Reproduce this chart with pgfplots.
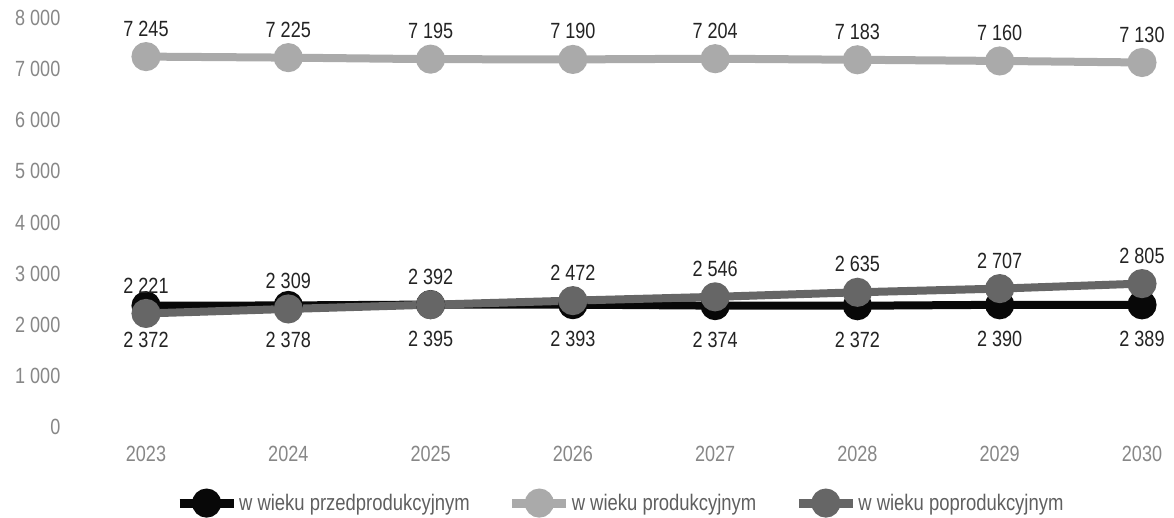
\documentclass[border=0pt]{standalone}
\usepackage{fontspec}
\setmainfont[FakeStretch=0.82]{Liberation Sans}
\usepackage{pgfplots}
\pgfplotsset{compat=1.18}
\definecolor{cBlack}{RGB}{8,8,8}
\definecolor{cLight}{RGB}{170,170,170}
\definecolor{cDark}{RGB}{102,102,102}
\definecolor{cTick}{RGB}{135,135,135}
\definecolor{cLab}{RGB}{35,35,35}
\definecolor{cLeg}{RGB}{95,95,95}
\begin{document}
\begin{tikzpicture}
\begin{axis}[
  name=ax, scale only axis, width=996pt, height=409pt,
  xmin=2023, xmax=2030, ymin=0, ymax=8000,
  clip=false,
  axis lines=left, axis line style={draw=none}, tick style={draw=none},
  /pgf/number format/.cd, 1000 sep={\ }, assume math mode=true, fixed, precision=0,
  /pgfplots/.cd,
  xtick={2023,2024,2025,2026,2027,2028,2029,2030},
  xticklabels={2023,2024,2025,2026,2027,2028,2029,2030},
  ytick={0,1000,2000,3000,4000,5000,6000,7000,8000},
  tick label style={font=\fontsize{22}{24}\selectfont, text=cTick},
  yticklabel style={anchor=east, xshift=-80pt},
  xticklabel style={anchor=center, yshift=-25pt},
  nodes near coords,
  every node near coord/.append style={font=\fontsize{22}{24}\selectfont, text=cLab, anchor=center},
  legend columns=3,
  legend style={draw=none, fill=none, at={(0.026,-0.186)}, anchor=west,
    font=\fontsize{22.5}{24}\selectfont, text=cLeg,
    nodes={inner xsep=1pt},
    /tikz/column 2/.style={column sep=37pt},
    /tikz/column 4/.style={column sep=37pt}},
  legend image code/.code={\draw[mark repeat=2, mark phase=2, #1, line width=9pt, mark size=10pt] plot coordinates {(0pt,0pt) (27pt,0pt) (54pt,0pt)};},
]
\addplot[cBlack, line width=8pt, mark=*, mark size=10.5pt,
  every node near coord/.append style={yshift=-34pt}]
  coordinates {(2023,2372) (2024,2378) (2025,2395) (2026,2393) (2027,2374) (2028,2372) (2029,2390) (2030,2389)};
\addlegendentry{w wieku przedprodukcyjnym}
\addplot[cLight, line width=8pt, mark=*, mark size=10.5pt,
  every node near coord/.append style={yshift=28pt}]
  coordinates {(2023,7245) (2024,7225) (2025,7195) (2026,7190) (2027,7204) (2028,7183) (2029,7160) (2030,7130)};
\addlegendentry{w wieku produkcyjnym}
\addplot[cDark, line width=8pt, mark=*, mark size=10.5pt,
  every node near coord/.append style={yshift=28pt}]
  coordinates {(2023,2221) (2024,2309) (2025,2392) (2026,2472) (2027,2546) (2028,2635) (2029,2707) (2030,2805)};
\addlegendentry{w wieku poprodukcyjnym}
\end{axis}
\path[use as bounding box] ([shift={(-146pt,-90pt)}]ax.south west) rectangle ([shift={(32pt,18pt)}]ax.north east);
\end{tikzpicture}
\end{document}
